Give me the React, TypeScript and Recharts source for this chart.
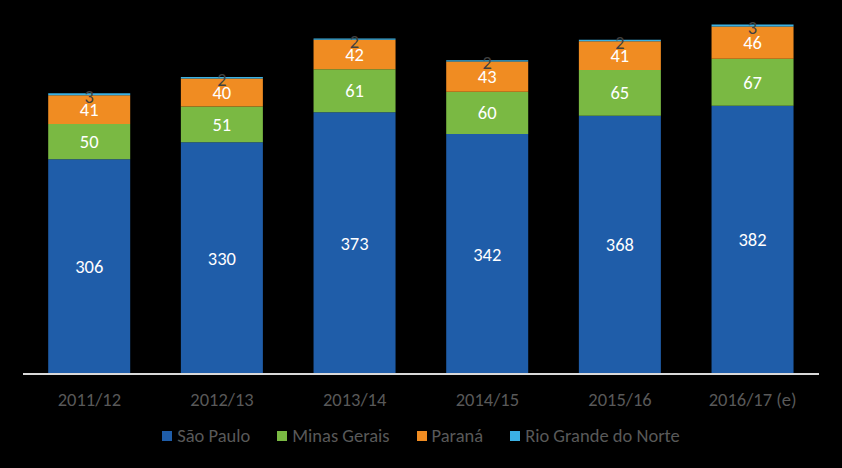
import { BarChart, Bar, XAxis, YAxis, Legend, LabelList } from 'recharts';

const seasons = ['2011/12', '2012/13', '2013/14', '2014/15', '2015/16', '2016/17 (e)'];
const saoPaulo = [306, 330, 373, 342, 368, 382];
const minasGerais = [50, 51, 61, 60, 65, 67];
const parana = [41, 40, 42, 43, 41, 46];
const rioGrande = [3, 2, 2, 2, 2, 3];

const seriesNames = ['São Paulo', 'Minas Gerais', 'Paraná', 'Rio Grande do Norte'];
const seriesColors = ['#1f5da9', '#7ab943', '#f08c22', '#3bb1e4'];

const data = seasons.map((s, i) => ({
  name: s,
  sp: saoPaulo[i],
  mg: minasGerais[i],
  pr: parana[i],
  rn: rioGrande[i],
}));

const FONT = 'Carlito, Lato, "Open Sans", sans-serif';

function LegendBox() {
  return (
    <div style={{ display: 'flex', justifyContent: 'center', alignItems: 'center', gap: 27, fontFamily: FONT, fontSize: 18.5, color: '#595959' }}>
      {seriesNames.map((n, i) => (
        <div key={n} style={{ display: 'flex', alignItems: 'center' }}>
          <span style={{ display: 'inline-block', width: 10, height: 10, background: seriesColors[i], marginRight: 5 }} />
          <span>{n}</span>
        </div>
      ))}
    </div>
  );
}

export default function App() {
  return (
    <div style={{ position: 'absolute', left: 0, top: 0, width: 842, height: 468, background: '#000', fontFamily: FONT }}>
      <BarChart
        width={842}
        height={468}
        data={data}
        margin={{ top: 23, right: 23, left: 23, bottom: 10 }}
        barCategoryGap="19%"
      >
        <XAxis
          dataKey="name"
          tickLine={false}
          axisLine={{ stroke: '#d9d9d9', strokeWidth: 2 }}
          tick={{ fill: '#595959', fontSize: 18.5, fontFamily: FONT }}
          tickMargin={13}
          height={58}
        />
        <YAxis hide domain={[0, 500]} />
        <Legend height={26} content={() => <LegendBox />} wrapperStyle={{ top: 424 }} />
        <Bar dataKey="sp" name={seriesNames[0]} stackId="a" fill={seriesColors[0]} isAnimationActive={false}>
          <LabelList dataKey="sp" position="center" fill="#fff" fontSize={18.5} fontFamily={FONT} />
        </Bar>
        <Bar dataKey="mg" name={seriesNames[1]} stackId="a" fill={seriesColors[1]} isAnimationActive={false}>
          <LabelList dataKey="mg" position="center" fill="#fff" fontSize={18.5} fontFamily={FONT} />
        </Bar>
        <Bar dataKey="pr" name={seriesNames[2]} stackId="a" fill={seriesColors[2]} isAnimationActive={false}>
          <LabelList dataKey="pr" position="center" fill="#fff" fontSize={18.5} fontFamily={FONT} />
        </Bar>
        <Bar dataKey="rn" name={seriesNames[3]} stackId="a" fill={seriesColors[3]} isAnimationActive={false}>
          <LabelList dataKey="rn" position="center" fill="#404040" fontSize={18.5} fontFamily={FONT} dy={2} />
        </Bar>
      </BarChart>
    </div>
  );
}
